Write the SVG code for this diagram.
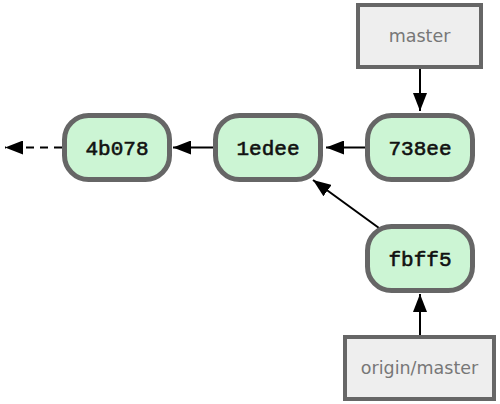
<svg xmlns="http://www.w3.org/2000/svg" width="500" height="404" viewBox="0 0 500 404">
<defs>
<style>
.commit{fill:#ccf5d4;stroke:#666;stroke-width:5}
.ref{fill:#eeeeee;stroke:#666;stroke-width:4}
.ct{font-family:"Liberation Mono",monospace;font-weight:normal;font-size:21px;fill:#111;stroke:#111;stroke-width:0.6;text-anchor:middle}
.rt{font-family:"DejaVu Sans","Liberation Sans",sans-serif;font-size:17.5px;fill:#777;text-anchor:middle}
.ln{stroke:#000;stroke-width:2;fill:none}
</style>
<marker id="ahl" viewBox="0 0 18 14" refX="18" refY="7" markerWidth="18" markerHeight="14" markerUnits="userSpaceOnUse" orient="auto">
<path d="M0,0 L18,7 L0,14 z" fill="#000"/>
</marker>
</defs>
<g id="connectors">
<line class="ln" x1="420" y1="69" x2="420" y2="111" marker-end="url(#ahl)"/>
<line class="ln" x1="365" y1="147.5" x2="326" y2="147.5" marker-end="url(#ahl)"/>
<line class="ln" x1="213" y1="147.5" x2="173" y2="147.5" marker-end="url(#ahl)"/>
<line class="ln" x1="62" y1="147.5" x2="5" y2="147.5" stroke-dasharray="8,6" marker-end="url(#ahl)"/>
<line class="ln" x1="379" y1="228" x2="313" y2="180" marker-end="url(#ahl)"/>
<line class="ln" x1="420" y1="335" x2="420" y2="294" marker-end="url(#ahl)"/>
</g>
<g id="n4b078">
<rect class="commit" x="64.5" y="115.5" width="105" height="64" rx="24"/>
<text class="ct" x="117" y="154.5">4b078</text>
</g>
<g id="n1edee">
<rect class="commit" x="215.5" y="115.5" width="105" height="64" rx="24"/>
<text class="ct" x="268" y="154.5">1edee</text>
</g>
<g id="n738ee">
<rect class="commit" x="367.5" y="115.5" width="105" height="64" rx="24"/>
<text class="ct" x="420" y="154.5">738ee</text>
</g>
<g id="nfbff5">
<rect class="commit" x="367.5" y="226.5" width="105" height="64" rx="24"/>
<text class="ct" x="420" y="265.5">fbff5</text>
</g>
<g id="master">
<rect class="ref" x="358" y="5" width="123" height="62"/>
<text class="rt" x="419.5" y="42">master</text>
</g>
<g id="origin-master">
<rect class="ref" x="345" y="337" width="149" height="62"/>
<text class="rt" x="419.5" y="374">origin/master</text>
</g>
</svg>
